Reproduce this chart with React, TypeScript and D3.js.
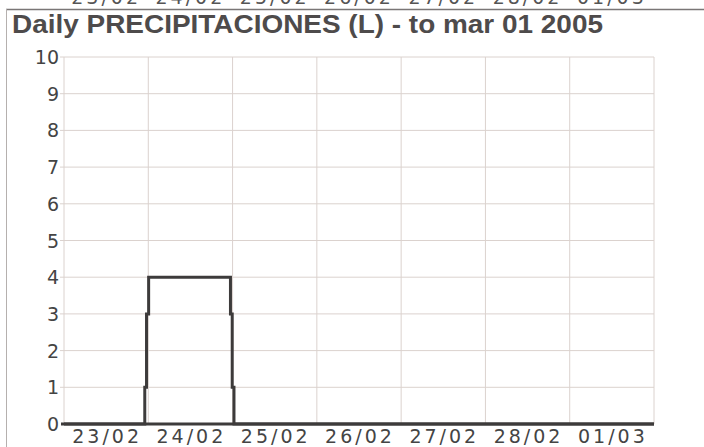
import React from 'react';
import { scaleLinear, line, curveStepAfter, range } from 'd3';

const width = 704;
const height = 447;

// day labels along the x axis (one per day, centred in the day)
const dayLabels = ["23/02", "24/02", "25/02", "26/02", "27/02", "28/02", "01/03"];
const yTicks = [0, 1, 2, 3, 4, 5, 6, 7, 8, 9, 10];

// hours since 23/02 00:00 and rain (L) from that hour on
const hours = [0, 23, 23.5, 24.1, 47.4, 47.9, 48.4, 168];
const rain = [0, 1, 3, 4, 3, 1, 0, 0];

const title = "Daily PRECIPITACIONES (L) - to mar 01 2005";

const plot = { left: 64, right: 654, top: 57, bottom: 424 };
const gridColor = "#dbd2ce";
const inkColor = "#3d3b3b";

const App = () => {
  const x = scaleLinear().domain([0, 168]).range([plot.left, plot.right]);
  const y = scaleLinear().domain([0, 10]).range([plot.bottom, plot.top]);

  const points: [number, number][] = hours.map((h, i) => [h, rain[i]]);
  const path = line<[number, number]>()
    .x(d => x(d[0]))
    .y(d => y(d[1]))
    .curve(curveStepAfter)(points);

  const dayEdges = range(0, 8).map(d => d * 24);

  return (
    <svg width={width} height={height}
      style={{ position: 'absolute', left: 0, top: 0, background: '#fff' }}
      fontFamily="DejaVu Sans, sans-serif">
      <rect width={width} height={height} fill="#fff" />

      {/* leftover labels from the chart above, cut off by the edge */}
      {dayLabels.map((t, i) => (
        <text key={'top' + t} x={x(i * 24 + 12)} y={4} textAnchor="middle"
          fontSize={19} letterSpacing={3} fill="#555">{t}</text>
      ))}
      <line x1={6} x2={width} y1={9.5} y2={9.5} stroke="#7a7676" strokeWidth={1.5} />
      <line x1={6.5} x2={6.5} y1={9} y2={height} stroke="#b5b0ae" strokeWidth={1} />

      <text x={12} y={33} fontFamily="Liberation Sans, Arial, sans-serif" fontWeight="bold"
        fontSize={25} fill="#4e4b4b" textLength={591} lengthAdjust="spacingAndGlyphs">{title}</text>

      {/* horizontal grid + y ticks */}
      {yTicks.map(t => (
        <g key={'y' + t}>
          {t > 0 && <line x1={plot.left - 4} x2={plot.right} y1={y(t)} y2={y(t)} stroke={gridColor} strokeWidth={1} />}
          <text x={59} y={y(t) + 7} textAnchor="end" fontSize={19} fill="#444">{t}</text>
        </g>
      ))}

      {/* vertical grid at each day */}
      {dayEdges.map(h => (
        <line key={'x' + h} x1={x(h)} x2={x(h)} y1={plot.top} y2={plot.bottom} stroke={gridColor} strokeWidth={1} />
      ))}

      {/* x axis */}
      <line x1={plot.left - 3} x2={plot.right} y1={plot.bottom} y2={plot.bottom} stroke={inkColor} strokeWidth={3} />
      {dayLabels.map((t, i) => (
        <text key={'b' + t} x={x(i * 24 + 12) + 1} y={443} textAnchor="middle"
          fontSize={19} letterSpacing={3} fill="#444">{t}</text>
      ))}

      <path d={path ?? ''} fill="none" stroke={inkColor} strokeWidth={3} />
    </svg>
  );
};

export default App;
